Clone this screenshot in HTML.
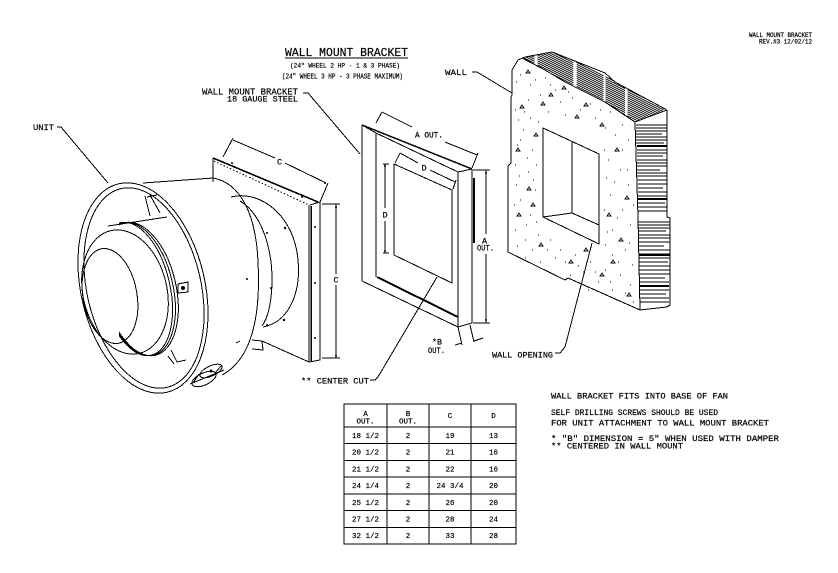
<!DOCTYPE html>
<html><head><meta charset="utf-8"><style>
html,body{margin:0;padding:0;background:#fff;}
svg{display:block;}
text{font-family:"Liberation Mono",monospace;fill:#000;stroke:#000;stroke-width:0.2;}
</style></head><body>
<svg width="838" height="573" viewBox="0 0 838 573" xmlns="http://www.w3.org/2000/svg">
<rect width="838" height="573" fill="#fff"/>
<defs>
<clipPath id="cr"><rect x="119" y="150" width="80" height="250"/></clipPath>
<clipPath id="band"><polygon points="525,57 552,52 585,65 605,73 615,82 665,110 635,122 605,102 585,92 565,82 545,70 522,58"/></clipPath>
</defs>
<g fill="none" stroke="#000" stroke-width="1" shape-rendering="crispEdges">

<!-- ===== UNIT (fan) ===== -->
<path d="M213,158 L213,182"/>
<path d="M213,158 L318,202" stroke-width="1.6"/>
<path d="M214,161 L309,205" stroke-dasharray="1.5,2"/>
<path d="M310,205 L320,202 L320,360 L309,362 L309,205"/>
<path d="M311,206 L311,361" stroke-width="1.5"/>
<path d="M262,341 L309,362"/>
<path d="M252,340 L262,341 L263,350 L252,349"/>
<!-- motor -->
<path d="M231,197 C258,190 290,212 297,252 C303,290 290,322 263,327"/>
<path d="M240,201 C262,214 273,250 272,285 C271,305 268,318 262,326"/>
<!-- housing -->
<path d="M143,183 L213,178"/>
<path d="M213,178 C241,183 256,215 258,262 C261,320 250,360 222,375"/>
<path d="M190,384 L224,370"/>
<!-- outer ring -->
<ellipse cx="143" cy="288" rx="62" ry="107" transform="rotate(-13 143 288)"/>
<ellipse cx="144" cy="288" rx="57" ry="102" transform="rotate(-13 144 288)"/>
<!-- inlet -->
<path d="M108,226 L167,217"/>
<g clip-path="url(#cr)">
<ellipse cx="136" cy="289" rx="34" ry="68" transform="rotate(-13 136 289)"/>
<ellipse cx="138" cy="289" rx="35" ry="68" transform="rotate(-13 138 289)"/>
<ellipse cx="140" cy="289" rx="36" ry="68" transform="rotate(-13 140 289)"/>
</g>
<ellipse cx="125" cy="292" rx="42" ry="63" transform="rotate(-13 125 292)"/>
<ellipse cx="110" cy="296" rx="27" ry="48" transform="rotate(-10 110 296)"/>
<!-- struts -->
<path d="M145,196 L150,216 M150,195 L160,213 M147,197 L157,195"/>
<path d="M171,350 L177,362 L186,360 M168,356 L174,364"/>
<path d="M178,284 L188,282 L188,292 L178,293 Z"/>
<!-- junction box -->
<ellipse cx="204" cy="379" rx="13" ry="6" transform="rotate(-25 204 379)"/>
<ellipse cx="211" cy="371" rx="12" ry="5" transform="rotate(-25 211 371)"/>
<path d="M193,383 L199,374 M215,373 L221,366"/>
<path d="M236,343 L240,341"/>
<!-- C dims (fan) -->
<path d="M223,157 L233,138 M233,140 L275,158 M285,163 L326,183 M320,202 L328,183"/>
<path d="M322,204 L340,204 M322,358 L340,358 M336,204 L336,274 M336,285 L336,358"/>
</g>

<g fill="#000" stroke="none">
<circle cx="232" cy="163" r="1"/><circle cx="302" cy="197" r="1"/>
<circle cx="315" cy="227" r="1"/><circle cx="315" cy="283" r="1"/><circle cx="315" cy="338" r="1"/>
<circle cx="285" cy="228" r="1.2"/><circle cx="267" cy="233" r="1"/><circle cx="284" cy="320" r="1.2"/>
<circle cx="267" cy="325" r="1"/><circle cx="247" cy="279" r="1"/><circle cx="271" cy="288" r="1"/>
<circle cx="183" cy="288" r="2"/><circle cx="336" cy="207" r="1"/><circle cx="336" cy="356" r="1"/>
<circle cx="211" cy="371" r="1.5"/><circle cx="325" cy="183" r="1"/>
<circle cx="486" cy="173" r="1"/><circle cx="486" cy="320" r="1"/>
<circle cx="385" cy="166" r="1"/><circle cx="385" cy="251" r="1"/>
</g>

<g fill="none" stroke="#000" stroke-width="1" shape-rendering="crispEdges">
<!-- ===== BRACKET ===== -->
<path d="M362,125 L362,281"/>
<path d="M376,133 L376,277"/>
<path d="M362,125 L472,169" stroke-width="1.4"/>
<path d="M376,133 L458,172"/>
<path d="M362,125 L376,133"/>
<path d="M458,172 L458,327 M472,169 L472,323"/>
<path d="M474,178 L474,243" stroke-width="2"/>
<path d="M458,172 L472,169"/>
<path d="M362,281 L458,327 L472,323"/>
<path d="M377,277 L458,317" stroke-width="2"/>
<path d="M394,164 L394,255 L452,283 L452,190 Z"/>
<!-- A OUT top -->
<path d="M376,123 L382,112 M382,112 L412,127 M445,142 L477,155 M472,168 L478,153"/>
<!-- D top -->
<path d="M395,163 L400,153 M400,153 L418,163 M430,170 L455,182 M453,189 L456,180"/>
<!-- D left -->
<path d="M383,164 L389,164 M383,253 L389,253 M385,164 L385,208 M385,221 L385,253"/>
<!-- A OUT right -->
<path d="M473,170 L490,170 M473,323 L490,323 M486,170 L486,234 M486,254 L486,323"/>
<!-- B OUT -->
<path d="M458,327 L462,345 M470,325 L474,342 M455,345 L462,343 M483,338 L474,341"/>

<!-- ===== WALL ===== -->
<path d="M552,52 L525,57 L518,60 L512,70 L512,95 L511,97 L511,163 L508,166 L508,252 L565,280 L568,278 L640,310 L667,307 L670,305 L670,218 L667,217 L667,110"/>
<path d="M552,52 L585,65 L605,73 L615,82 L667,110"/>
<path d="M522,58 L545,70 L565,82 L585,92 L605,102 L635,122 L667,110"/>
<path d="M635,122 L638,217 L640,310"/>
<!-- opening -->
<path d="M543,128 L599,154 L599,244 L543,217 Z"/>
<path d="M572,142 L572,213 M543,217 L572,213 L599,225"/>
<!-- top band hatching -->
<g clip-path="url(#band)">
<path d="M515,31.5 L670,109 M515,33.5 L670,111 M515,35.5 L670,113 M515,37.5 L670,115 M515,39.5 L670,117 M515,41.5 L670,119 M515,43.5 L670,121 M515,45.5 L670,123 M515,47.5 L670,125 M515,49.5 L670,127 M515,51.5 L670,129 M515,53.5 L670,131 M515,55.5 L670,133 M515,57.5 L670,135 M515,59.5 L670,137" stroke-dasharray="22,3,40,4,30,2"/>
</g>
<!-- side hatching -->
<path d="M636,125 L667,125 M636,128 L667,128 M636,131 L667,131 M636,134 L662,134 M636,137 L667,137 M636,140 L667,140 M636,143 L664,143 M637,146 L667,146 M637,150 L667,150 M637,153 L667,153 M637,156 L663,156 M637,160 L667,160 M637,163 L667,163 M637,166 L667,166 M637,170 L660,170 M637,173 L667,173 M637,176 L667,176 M638,180 L667,180 M638,184 L667,184 M638,188 L663,188 M638,192 L667,192 M638,196 L667,196 M638,199 L667,199 M638,203 L665,203 M638,207 L667,207 M638,211 L667,211 M638,222 L670,222 M638,225 L670,225 M638,228 L670,228 M638,231 L666,231 M638,235 L670,235 M638,238 L670,238 M639,242 L670,242 M639,246 L664,246 M639,250 L670,250 M639,254 L670,254 M639,258 L670,258 M639,262 L668,262 M639,266 L670,266 M639,270 L670,270 M639,274 L670,274 M640,278 L665,278 M640,282 L669,282 M640,286 L669,286 M640,290 L669,290 M640,294 L666,294 M640,298 L669,298 M640,302 L669,302"/>
<path d="M637,146 L667,146 M638,199 L667,199 M639,255 L670,255 M640,286 L669,286" stroke-width="1.6"/>

<!-- ===== LEADERS ===== -->
<path d="M57,127 L61,127 L108,183"/>
<path d="M303,93 L308,93 L360,154"/>
<path d="M472,72 L477,72 L512,93"/>
<path d="M370,380 L375,380 L378,377 L437,277"/>
<path d="M555,353 L560,353 L565,347 L592,243"/>

<!-- title underline -->
<path d="M285,58 L408,58"/>

<!-- ===== TABLE ===== -->
<rect x="344" y="404" width="172" height="140"/>
<path d="M387,404 L387,544 M429,404 L429,544 M471,404 L471,544"/>
<path d="M344,427 L516,427 M344,443.7 L516,443.7 M344,460.4 L516,460.4 M344,477.1 L516,477.1 M344,493.9 L516,493.9 M344,510.6 L516,510.6 M344,527.3 L516,527.3"/>
</g>

<!-- concrete dots -->
<path fill="none" stroke="#000" stroke-width="1.2" shape-rendering="crispEdges" d="M520,75h1M530,85h1M545,78h1M528,100h1M540,95h1M555,90h1M560,102h1M572,98h1M518,120h1M530,118h1M548,112h1M565,115h1M580,110h1M595,118h1M610,112h1M622,125h1M628,140h1M615,135h1M605,128h1M520,140h1M532,150h1M515,165h1M528,172h1M535,190h1M520,200h1M530,215h1M515,230h1M525,240h1M538,235h1M550,240h1M560,250h1M575,255h1M590,262h1M605,270h1M620,275h1M630,285h1M612,290h1M598,282h1M583,272h1M555,258h1M608,160h1M620,170h1M628,185h1M610,195h1M622,210h1M630,225h1M612,230h1M605,245h1M625,250h1M618,262h1M632,265h1M523,130h1M536,165h1M516,185h1M525,258h1M540,262h1M570,275h1M588,290h1M616,300h1M622,150h1M614,182h1M516,82h1M535,80h1M550,85h1M568,92h1M590,104h1M600,110h1M515,110h1M524,112h1M538,122h1M517,145h1M527,158h1M519,176h1M533,180h1M514,205h1M526,225h1M536,222h1M517,246h1M532,250h1M547,250h1M565,262h1M578,266h1M595,272h1M610,282h1M625,293h1M633,302h1M604,150h1M606,178h1M627,170h1M604,210h1M629,243h1M617,218h1M633,205h1M607,232h1M612,255h1"/>
<path fill="none" stroke="#000" stroke-width="0.9" d="M526,73l2,-3l2,3zM549,96l2,-3l2,3zM562,89l2,-3l2,3zM584,106l2,-3l2,3zM516,151l2,-3l2,3zM534,136l2,-3l2,3zM600,126l2,-3l2,3zM615,151l2,-3l2,3zM625,199l2,-3l2,3zM607,216l2,-3l2,3zM619,241l2,-3l2,3zM539,246l2,-3l2,3zM569,263l2,-3l2,3zM600,276l2,-3l2,3zM627,296l2,-3l2,3zM517,216l2,-3l2,3zM531,206l2,-3l2,3zM584,251l2,-3l2,3zM611,263l2,-3l2,3zM520,108l2,-3l2,3zM541,105l2,-3l2,3zM575,118l2,-3l2,3zM527,190l2,-3l2,3z"/>

<!-- ===== TEXT ===== -->
<text x="749" y="37" font-size="6" textLength="63" lengthAdjust="spacingAndGlyphs">WALL MOUNT BRACKET</text>
<text x="759" y="43.5" font-size="6" textLength="53" lengthAdjust="spacingAndGlyphs">REV.#3  12/02/12</text>

<text x="285" y="56" font-size="11.5" textLength="123" lengthAdjust="spacingAndGlyphs">WALL MOUNT BRACKET</text>
<text x="290" y="67.5" font-size="6.5" textLength="110" lengthAdjust="spacingAndGlyphs">(24" WHEEL 2 HP - 1 &amp; 3 PHASE)</text>
<text x="282" y="78.5" font-size="7" textLength="121" lengthAdjust="spacingAndGlyphs">(24" WHEEL 3 HP - 3 PHASE MAXIMUM)</text>
<text x="202" y="94.5" font-size="8.8" textLength="96" lengthAdjust="spacingAndGlyphs">WALL MOUNT BRACKET</text>
<text x="227" y="101.5" font-size="8.5" textLength="71" lengthAdjust="spacingAndGlyphs">18 GAUGE STEEL</text>
<text x="33" y="130" font-size="8.5" textLength="21" lengthAdjust="spacingAndGlyphs">UNIT</text>
<text x="445" y="75" font-size="8.5" textLength="22" lengthAdjust="spacingAndGlyphs">WALL</text>
<text x="415" y="137.5" font-size="8.5" textLength="28" lengthAdjust="spacingAndGlyphs">A OUT.</text>
<text x="277" y="164.5" font-size="8.5">C</text>
<text x="421.5" y="170.5" font-size="8.5">D</text>
<text x="382.5" y="217.5" font-size="8.5">D</text>
<text x="333.5" y="282.5" font-size="8.5">C</text>
<text x="482" y="243.5" font-size="8.5">A</text>
<text x="477" y="250.5" font-size="8.5" textLength="17" lengthAdjust="spacingAndGlyphs">OUT.</text>
<text x="432" y="344.5" font-size="8.5" textLength="10" lengthAdjust="spacingAndGlyphs">*B</text>
<text x="428" y="353" font-size="8.5" textLength="17" lengthAdjust="spacingAndGlyphs">OUT.</text>
<text x="492" y="357.5" font-size="8.5" textLength="61" lengthAdjust="spacingAndGlyphs">WALL OPENING</text>
<text x="301" y="383.5" font-size="8.5" textLength="68" lengthAdjust="spacingAndGlyphs">** CENTER CUT</text>

<text x="551" y="398.5" font-size="8.6" textLength="177" lengthAdjust="spacingAndGlyphs">WALL BRACKET FITS INTO BASE OF FAN</text>
<text x="551" y="415" font-size="8.6" textLength="167" lengthAdjust="spacingAndGlyphs">SELF DRILLING SCREWS SHOULD BE USED</text>
<text x="551" y="425.5" font-size="8.6" textLength="218" lengthAdjust="spacingAndGlyphs">FOR UNIT ATTACHMENT TO WALL MOUNT BRACKET</text>
<text x="551" y="441" font-size="8.6" textLength="228" lengthAdjust="spacingAndGlyphs">*  "B" DIMENSION = 5" WHEN USED WITH DAMPER</text>
<text x="551" y="448.5" font-size="8.6" textLength="132" lengthAdjust="spacingAndGlyphs">** CENTERED IN WALL MOUNT</text>

<g font-size="7.5" text-anchor="middle">
<text x="365.5" y="416">A</text><text x="365.5" y="423.5">OUT.</text>
<text x="408" y="416">B</text><text x="408" y="423.5">OUT.</text>
<text x="450" y="418">C</text><text x="493.5" y="418">D</text>
<text x="408" y="438">2</text><text x="450" y="438">19</text><text x="493.5" y="438">13</text>
<text x="408" y="454.7">2</text><text x="450" y="454.7">21</text><text x="493.5" y="454.7">16</text>
<text x="408" y="471.4">2</text><text x="450" y="471.4">22</text><text x="493.5" y="471.4">16</text>
<text x="408" y="488.1">2</text><text x="450" y="488.1">24 3/4</text><text x="493.5" y="488.1">20</text>
<text x="408" y="504.8">2</text><text x="450" y="504.8">26</text><text x="493.5" y="504.8">20</text>
<text x="408" y="521.5">2</text><text x="450" y="521.5">28</text><text x="493.5" y="521.5">24</text>
<text x="408" y="538.2">2</text><text x="450" y="538.2">33</text><text x="493.5" y="538.2">28</text>
</g>
<g font-size="7.5">
<text x="352" y="438">18 1/2</text>
<text x="352" y="454.7">20 1/2</text>
<text x="352" y="471.4">21 1/2</text>
<text x="352" y="488.1">24 1/4</text>
<text x="352" y="504.8">25 1/2</text>
<text x="352" y="521.5">27 1/2</text>
<text x="352" y="538.2">32 1/2</text>
</g>
</svg>
</body></html>
